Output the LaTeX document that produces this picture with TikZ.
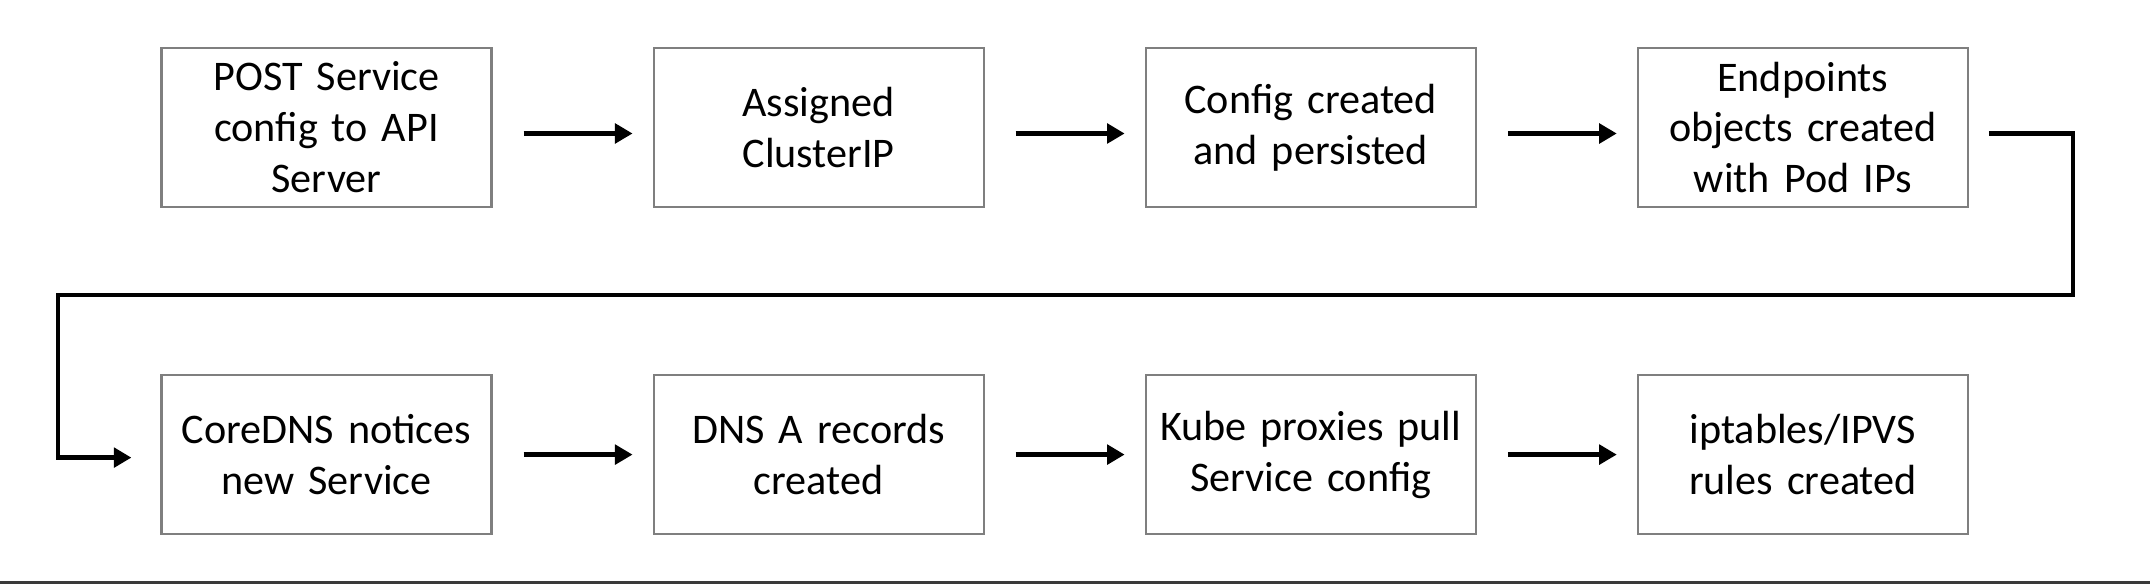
\documentclass[tikz,border=0pt]{standalone}
\usepackage{fontspec}
\setmainfont{Carlito}
\usepackage{tikz}
\usetikzlibrary{arrows.meta,positioning}
\definecolor{boxline}{HTML}{7F7F7F}
\definecolor{barcol}{HTML}{3A3A3A}

\begin{document}
\begin{tikzpicture}[
  stepbox/.style={draw=boxline, line width=0.6pt, minimum width=3.3cm, minimum height=1.59cm, text width=3.2cm, align=center, inner sep=0pt, font=\fontsize{12}{14.5}\selectfont},
  arrow/.style={-{Triangle[length=5pt,width=5.5pt]}, line width=1.4pt, shorten <=3.1mm, shorten >=2mm}
]
  \useasboundingbox (0,0) rectangle (21.5,-5.84);

  % first row
  \node[stepbox] (post) at (3.265,-1.275) {POST Service\\config to API\\Server};
  \node[stepbox, right=1.6cm of post] (clusterip) {Assigned\\ClusterIP};
  \node[stepbox, right=1.6cm of clusterip] (persist) {Config created\\and persisted};
  \node[stepbox, right=1.6cm of persist] (endpoints) {Endpoints\\objects created\\with Pod IPs};

  % second row
  \node[stepbox, below=1.66cm of post] (coredns) {CoreDNS notices\\new Service};
  \node[stepbox, right=1.6cm of coredns] (dnsrec) {DNS A records\\created};
  \node[stepbox, right=1.6cm of dnsrec] (proxies) {Kube proxies pull\\Service config};
  \node[stepbox, right=1.6cm of proxies] (iptables) {iptables/IPVS\\rules created};

  \draw[arrow] ([yshift=-0.6mm]post.east) -- ([yshift=-0.6mm]clusterip.west);
  \draw[arrow] ([yshift=-0.6mm]clusterip.east) -- ([yshift=-0.6mm]persist.west);
  \draw[arrow] ([yshift=-0.6mm]persist.east) -- ([yshift=-0.6mm]endpoints.west);
  \draw[arrow] (coredns) -- (dnsrec);
  \draw[arrow] (dnsrec) -- (proxies);
  \draw[arrow] (proxies) -- (iptables);

  % wrap around to the second row
  \coordinate (turnr) at (20.73,-2.95);
  \coordinate (turnl) at (0.58,-2.95);
  \draw[line width=1.4pt, -{Triangle[length=5pt,width=5.5pt]}] ([xshift=2mm,yshift=-0.6mm]endpoints.east) -| (turnr) -- (turnl) |- ([xshift=-2.9mm,yshift=-0.3mm]coredns.west);

  % bottom edge of the screenshot
  \fill[barcol] (0,-5.81) rectangle (21.5,-5.84);
\end{tikzpicture}
\end{document}
